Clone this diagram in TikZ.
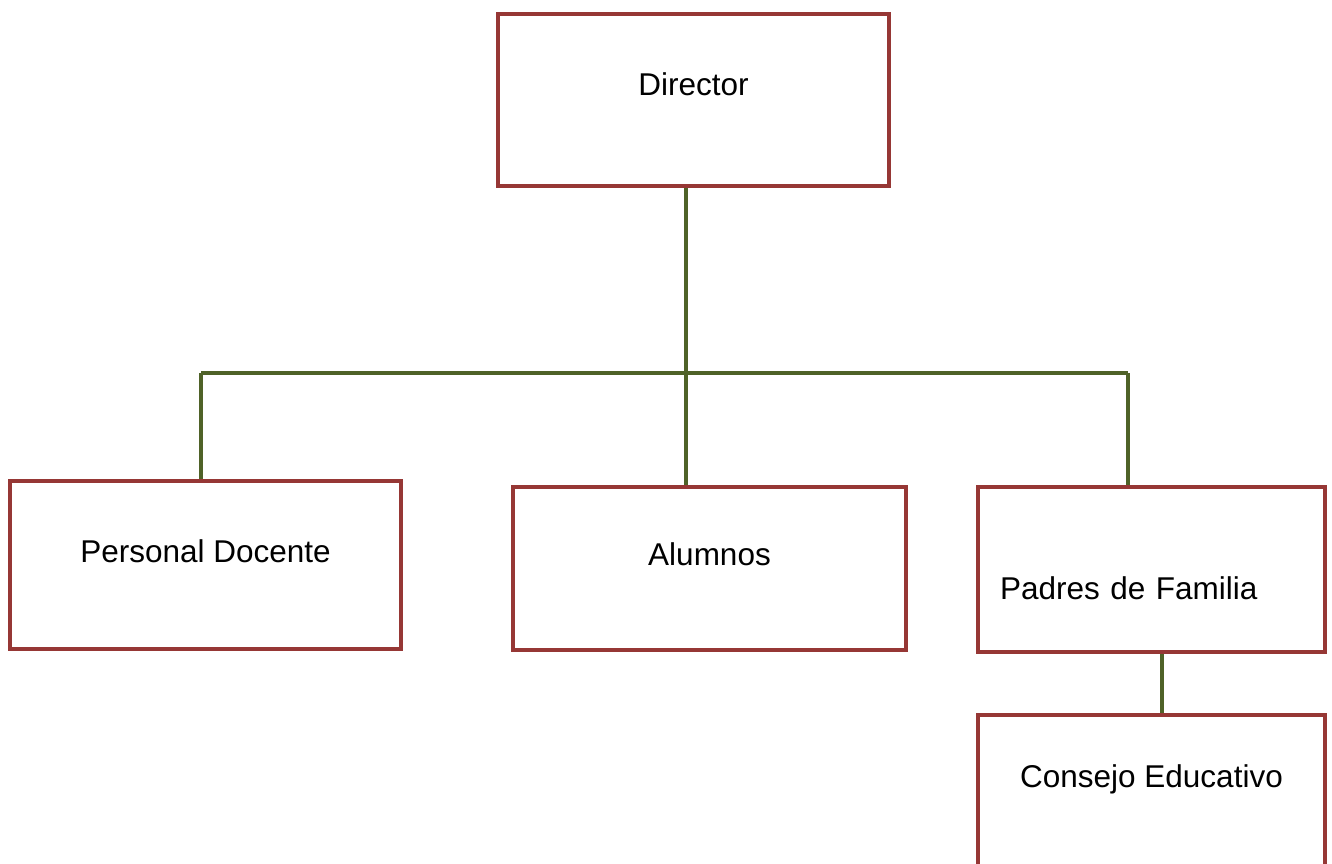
\documentclass[tikz,border=0pt]{standalone}
\usepackage{fontspec}
\setmainfont{Liberation Sans}
\usepackage{tikz}
\usepackage{xcolor}
\definecolor{boxline}{RGB}{150,55,53}
\definecolor{branch}{RGB}{79,98,40}

\begin{document}
\begin{tikzpicture}[
            x = 1pt, y = -1pt,
            unit/.style = {draw = boxline, line width = 4pt, fill = white,
                           inner sep = 0pt, font = \fontsize{31.5}{38}\selectfont},
            link/.style = {draw = branch, line width = 3.3pt}
            ]
            \useasboundingbox (0,0) rectangle (1332,863);
            \clip (0,0) rectangle (1332,863);
            % hierarchy lines
            \coordinate (hub) at (686,373);
            \coordinate (westend) at (201,373);
            \coordinate (eastend) at (1128,373);
            \coordinate (tail) at (1162,670);
            % boxes
            \node[unit, minimum width = 391pt, text height = 81pt, text depth = 91pt,
                  anchor = north] (dir) at (693.5,12) {Director};
            \node[unit, minimum width = 391pt, text height = 81pt, text depth = 87pt,
                  anchor = north] (doc) at (205.5,479) {Personal Docente};
            \node[unit, minimum width = 393pt, text height = 78pt, text depth = 85pt,
                  anchor = north] (alu) at (709.5,485) {Alumnos};
            \node[unit, inner xsep = 22pt, text width = 303pt, align = left,
                  text height = 112pt, text depth = 53pt,
                  anchor = north] (pad) at (1151.5,485) {Padres de Familia};
            \node[unit, minimum width = 347pt, text height = 72pt, text depth = 95pt,
                  anchor = north] (con) at (1151.5,713) {Consejo Educativo};
            % connectors
            \draw[link] (dir.south -| hub) -- (alu.north -| hub);
            \draw[link] (westend) -- (eastend);
            \draw[link] (westend) -- (doc.north -| westend);
            \draw[link] (eastend) -- (pad.north -| eastend);
            \draw[link] (pad.south -| tail) -- (con.north -| tail);
        \end{tikzpicture}
\end{document}
